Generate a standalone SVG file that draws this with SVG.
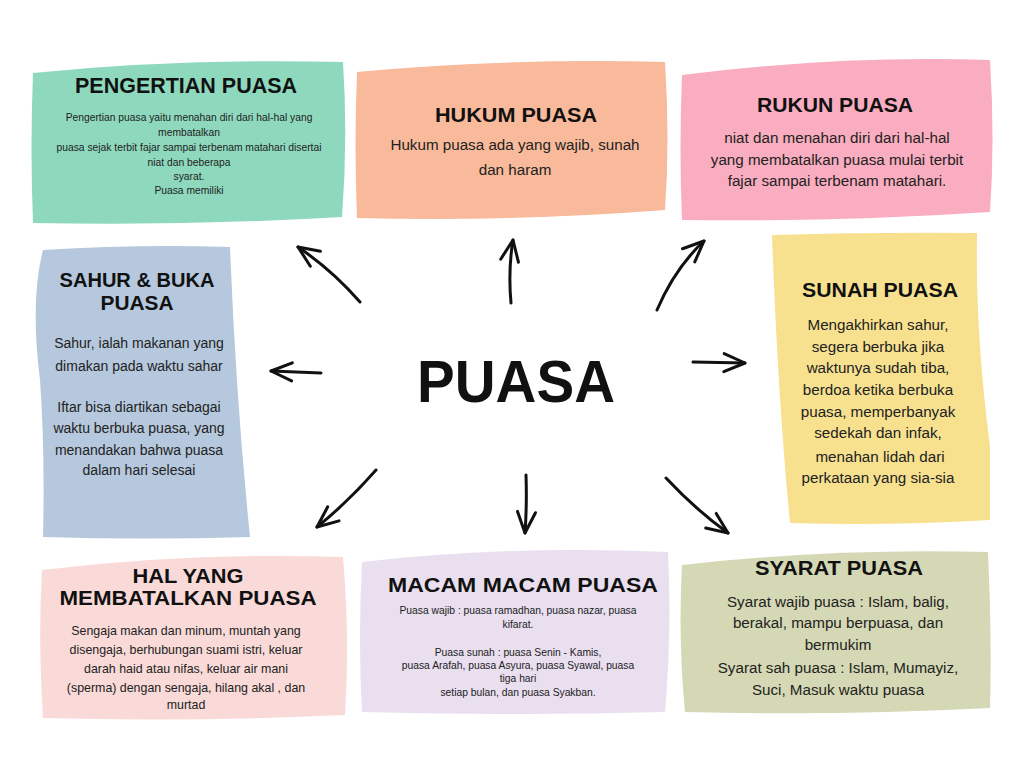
<svg xmlns="http://www.w3.org/2000/svg" width="1024" height="768" viewBox="0 0 1024 768">
<style>
.t{font-family:"Liberation Sans",Arial,sans-serif;font-weight:bold;fill:#111;text-anchor:middle}
.b{font-family:"Liberation Sans",Arial,sans-serif;fill:#222;text-anchor:middle}
.b15{font-size:15.2px}
.b14{font-size:14px}
.b13{font-size:12.4px}
.b10{font-size:10.3px}
.ar{fill:none;stroke:#111;stroke-width:3;stroke-linecap:round;marker-end:url(#ah)}
</style>
<defs>
<marker id="ah" markerUnits="userSpaceOnUse" markerWidth="28" markerHeight="24" viewBox="0 0 28 24" refX="24" refY="12" orient="auto">
<path d="M3,3 L24,12 L3,21" fill="none" stroke="#111" stroke-width="3" stroke-linecap="round" stroke-linejoin="round"/>
</marker>
</defs>
<rect width="1024" height="768" fill="#fff"/>

<g id="pengertian">
<path d="M33,73 Q180,58 343,62 Q348,140 342,217 Q190,226 33,223 Q30,150 33,73 Z" fill="#8ED9BD"/>
<text class="t" x="186" y="93" font-size="22" textLength="222" lengthAdjust="spacingAndGlyphs">PENGERTIAN PUASA</text>
<text class="b b10" x="189" y="120.5">Pengertian puasa yaitu menahan diri dari hal-hal yang</text>
<text class="b b10" x="189" y="135.5">membatalkan</text>
<text class="b b10" x="189" y="151">puasa sejak terbit fajar sampai terbenam matahari disertai</text>
<text class="b b10" x="189" y="165.5">niat dan beberapa</text>
<text class="b b10" x="189" y="180">syarat.</text>
<text class="b b10" x="189" y="193.5">Puasa memiliki</text>
</g>

<g id="hukum">
<path d="M357,72 Q510,58 665,62 Q670,140 665,210 Q510,222 357,218 Q354,145 357,72 Z" fill="#F8BA9B"/>
<text class="t" x="516" y="122" font-size="20" textLength="162" lengthAdjust="spacingAndGlyphs">HUKUM PUASA</text>
<text class="b b15" x="515" y="150">Hukum puasa ada yang wajib, sunah</text>
<text class="b b15" x="515" y="175">dan haram</text>
</g>

<g id="rukun">
<path d="M682,75 Q840,55 990,60 Q995,140 990,212 Q840,222 682,220 Q679,150 682,75 Z" fill="#FAADC0"/>
<text class="t" x="835" y="112" font-size="20" textLength="156" lengthAdjust="spacingAndGlyphs">RUKUN PUASA</text>
<text class="b b15" x="837" y="143">niat dan menahan diri dari hal-hal</text>
<text class="b b15" x="837" y="165">yang membatalkan puasa mulai terbit</text>
<text class="b b15" x="837" y="186">fajar sampai terbenam matahari.</text>
</g>

<g id="sahur">
<path d="M43,250 Q140,244 230,247 Q236,400 250,537 Q145,540 43,537 Q45,450 40,380 Q30,300 43,250 Z" fill="#B6C8DD"/>
<text class="t" x="137" y="287" font-size="20" textLength="155" lengthAdjust="spacingAndGlyphs">SAHUR &amp; BUKA</text>
<text class="t" x="137" y="310" font-size="20" textLength="73" lengthAdjust="spacingAndGlyphs">PUASA</text>
<text class="b b14" x="139" y="348">Sahur, ialah makanan yang</text>
<text class="b b14" x="139" y="371">dimakan pada waktu sahar</text>
<text class="b b14" x="139" y="412">Iftar bisa diartikan sebagai</text>
<text class="b b14" x="139" y="433">waktu berbuka puasa, yang</text>
<text class="b b14" x="139" y="455">menandakan bahwa puasa</text>
<text class="b b14" x="139" y="475">dalam hari selesai</text>
</g>

<g id="sunah">
<path d="M772,235 Q875,232 977,233 Q975,330 990,447 L990,520 Q890,526 790,523 Q778,400 772,235 Z" fill="#F7E18F"/>
<text class="t" x="880" y="297" font-size="20" textLength="156" lengthAdjust="spacingAndGlyphs">SUNAH PUASA</text>
<text class="b b15" x="878" y="330">Mengakhirkan sahur,</text>
<text class="b b15" x="878" y="352">segera berbuka jika</text>
<text class="b b15" x="878" y="373">waktunya sudah tiba,</text>
<text class="b b15" x="878" y="395">berdoa ketika berbuka</text>
<text class="b b15" x="878" y="417">puasa, memperbanyak</text>
<text class="b b15" x="878" y="438">sedekah dan infak,</text>
<text class="b b15" x="880" y="462">menahan lidah dari</text>
<text class="b b15" x="878" y="483">perkataan yang sia-sia</text>
</g>

<g id="hal">
<path d="M42,570 Q190,552 343,557 Q350,640 345,715 Q190,722 43,718 Q38,640 42,570 Z" fill="#F9DAD8"/>
<text class="t" x="188" y="583" font-size="20" textLength="111" lengthAdjust="spacingAndGlyphs">HAL YANG</text>
<text class="t" x="188" y="605" font-size="20" textLength="257" lengthAdjust="spacingAndGlyphs">MEMBATALKAN PUASA</text>
<text class="b b13" x="186" y="635">Sengaja makan dan minum, muntah yang</text>
<text class="b b13" x="186" y="654">disengaja, berhubungan suami istri, keluar</text>
<text class="b b13" x="186" y="673">darah haid atau nifas, keluar air mani</text>
<text class="b b13" x="186" y="692">(sperma) dengan sengaja, hilang akal , dan</text>
<text class="b b13" x="186" y="709">murtad</text>
</g>

<g id="macam">
<path d="M362,562 Q510,545 668,552 Q672,630 665,712 Q515,716 362,712 Q358,640 362,562 Z" fill="#E9DFEF"/>
<text class="t" x="523" y="592" font-size="20" textLength="270" lengthAdjust="spacingAndGlyphs">MACAM MACAM PUASA</text>
<text class="b b10" x="518" y="613.5">Puasa wajib : puasa ramadhan, puasa nazar, puasa</text>
<text class="b b10" x="518" y="627.5">kifarat.</text>
<text class="b b10" x="518" y="655.5">Puasa sunah : puasa Senin - Kamis,</text>
<text class="b b10" x="518" y="668.5">puasa Arafah, puasa Asyura, puasa Syawal, puasa</text>
<text class="b b10" x="518" y="681.5">tiga hari</text>
<text class="b b10" x="518" y="695.5">setiap bulan, dan puasa Syakban.</text>
</g>

<g id="syarat">
<path d="M682,565 Q830,548 988,552 Q992,630 990,708 Q835,716 685,712 Q678,640 682,565 Z" fill="#D5D8B4"/>
<text class="t" x="839" y="575" font-size="20" textLength="168" lengthAdjust="spacingAndGlyphs">SYARAT PUASA</text>
<text class="b b15" x="838" y="607">Syarat wajib puasa : Islam, balig,</text>
<text class="b b15" x="838" y="628">berakal, mampu berpuasa, dan</text>
<text class="b b15" x="838" y="650">bermukim</text>
<text class="b b15" x="838" y="673">Syarat sah puasa : Islam, Mumayiz,</text>
<text class="b b15" x="838" y="695">Suci, Masuk waktu puasa</text>
</g>

<g id="center">
<text class="t" x="516" y="402" font-size="60" textLength="198" lengthAdjust="spacingAndGlyphs">PUASA</text>
</g>

<g id="connectors">
<path class="ar" d="M360,302 Q332,270 298,247"/>
<path class="ar" d="M511,303 Q508,270 513,240"/>
<path class="ar" d="M657,310 Q675,268 704,241"/>
<path class="ar" d="M321,373 L271,371"/>
<path class="ar" d="M693,362 L745,363"/>
<path class="ar" d="M376,470 Q348,502 317,527"/>
<path class="ar" d="M526,475 Q527,505 525,533"/>
<path class="ar" d="M666,478 Q696,510 728,533"/>
</g>
</svg>
